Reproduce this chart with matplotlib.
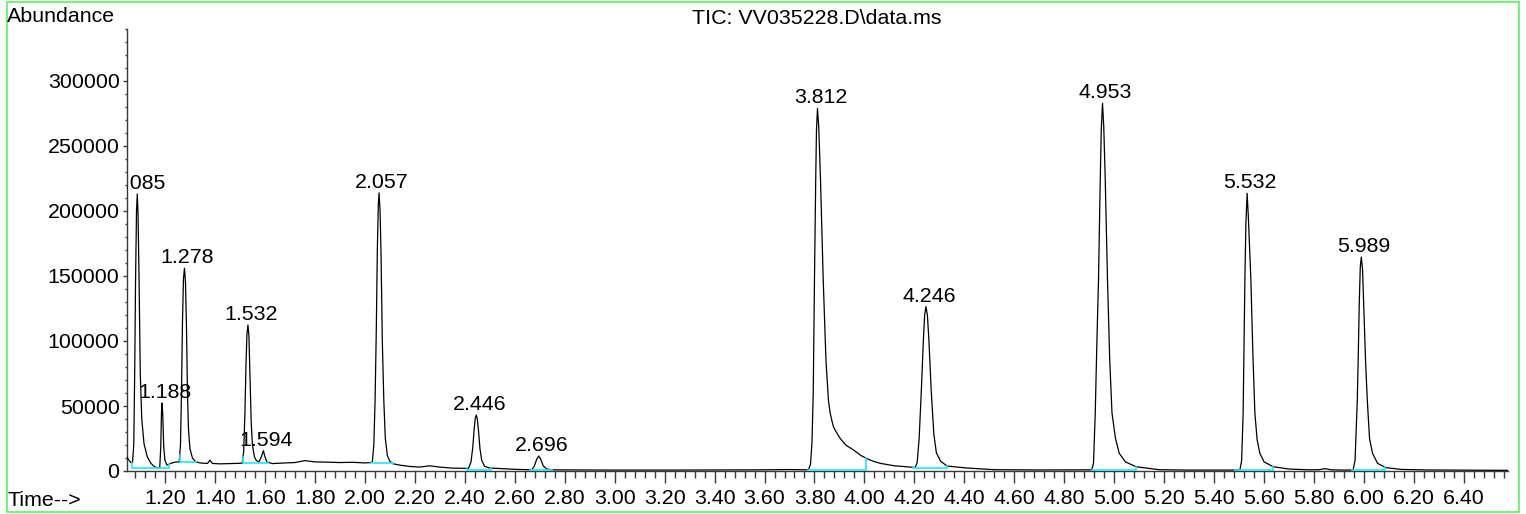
import numpy as np
import matplotlib
matplotlib.use("Agg")
import matplotlib.pyplot as plt
from matplotlib.ticker import MultipleLocator, FormatStrFormatter
from matplotlib.transforms import ScaledTranslation
from matplotlib.patches import Rectangle

plt.rcParams['font.family'] = ['Liberation Sans', 'DejaVu Sans']

# ---- data (time in min, abundance) ----
time_pts = [
    # start + 1.085
    1.047, 1.055, 1.063, 1.070, 1.075, 1.079, 1.082, 1.086, 1.089, 1.092, 1.096, 1.101, 1.107,
    1.116, 1.129, 1.143, 1.157, 1.170,
    # 1.188
    1.179, 1.183, 1.186, 1.188, 1.191, 1.195, 1.200, 1.208, 1.225, 1.245,
    # 1.278
    1.257, 1.262, 1.266, 1.270, 1.274, 1.278, 1.282, 1.286, 1.290, 1.294, 1.300, 1.310, 1.322,
    1.340, 1.370, 1.380, 1.390, 1.420, 1.460, 1.500,
    # 1.532 / 1.594
    1.509, 1.515, 1.520, 1.524, 1.528, 1.532, 1.536, 1.540, 1.545, 1.550, 1.558, 1.566, 1.576,
    1.586, 1.594, 1.600, 1.608, 1.630, 1.680, 1.720, 1.760, 1.800, 1.850, 1.900, 1.950, 2.000,
    2.025,
    # 2.057
    2.030, 2.036, 2.041, 2.046, 2.050, 2.054, 2.057, 2.061, 2.065, 2.070, 2.076, 2.082, 2.090,
    2.100, 2.115, 2.140, 2.180, 2.220, 2.260, 2.300, 2.350, 2.400,
    # 2.446
    2.415, 2.425, 2.432, 2.438, 2.442, 2.446, 2.450, 2.455, 2.461, 2.468, 2.480, 2.500, 2.550,
    2.600, 2.650,
    # 2.696
    2.668, 2.678, 2.688, 2.696, 2.704, 2.714, 2.728, 2.750, 2.850, 3.000, 3.200, 3.400, 3.600,
    3.700, 3.770,
    # 3.812
    3.776, 3.784, 3.790, 3.795, 3.800, 3.805, 3.808, 3.812, 3.817, 3.824, 3.835, 3.846, 3.856,
    3.863, 3.870, 3.876, 3.890, 3.903, 3.925, 3.956, 3.985, 4.010, 4.035, 4.063, 4.120, 4.197,
    # 4.246
    4.203, 4.211, 4.219, 4.228, 4.236, 4.241, 4.246, 4.252, 4.258, 4.267, 4.278, 4.288, 4.305,
    4.331, 4.410, 4.520, 4.700, 4.850, 4.910,
    # 4.953
    4.917, 4.924, 4.930, 4.937, 4.944, 4.948, 4.953, 4.958, 4.964, 4.973, 4.982, 4.991, 5.005,
    5.020, 5.045, 5.087, 5.180, 5.300, 5.450, 5.503,
    # 5.532
    5.510, 5.516, 5.520, 5.523, 5.527, 5.532, 5.537, 5.542, 5.547, 5.555, 5.563, 5.572, 5.583,
    5.600, 5.636, 5.700, 5.780, 5.820, 5.843, 5.870, 5.920, 5.956,
    # 5.989
    5.964, 5.973, 5.977, 5.981, 5.985, 5.989, 5.994, 5.999, 6.006, 6.013, 6.022, 6.034, 6.054,
    6.087, 6.150, 6.250, 6.350, 6.450, 6.577,
]
abundance_pts = [
    10800, 8500, 6500, 6500, 20000, 80000, 145000, 200000, 213000, 198000, 150000, 75000, 40000,
    21000, 11000, 6000, 3500, 2300,
    3000, 18000, 45000, 52300, 44000, 18000, 8000, 4500, 6000, 7000,
    7000, 20000, 60000, 115000, 148000, 156000, 145000, 111000, 60000, 32000, 17000, 10000, 7200,
    6200, 5800, 8300, 5800, 5500, 5700, 6000,
    6000, 15000, 45000, 80000, 105000, 112300, 104000, 75000, 38000, 20000, 11000, 8000, 7000,
    11000, 15600, 11000, 7000, 5700, 6200, 6500, 8000, 7000, 6800, 6500, 6700, 6200,
    6500,
    7000, 20000, 54000, 110000, 170000, 205000, 214000, 200000, 165000, 100000, 54000, 25000, 12000,
    7500, 5500, 4500, 3500, 3000, 4000, 3000, 2200, 2000,
    2000, 7000, 18000, 33000, 40500, 43000, 40500, 31000, 17000, 8000, 3500, 2300, 1800,
    1300, 1000,
    1000, 3500, 9000, 11500, 9000, 4000, 1500, 900, 800, 700, 700, 800, 900,
    1100, 900,
    1000, 5000, 22000, 60000, 147000, 225000, 262000, 279000, 265000, 225000, 147000, 85000, 54000,
    44400, 38500, 34000, 29000, 25100, 20000, 16200, 12000, 9500, 7500, 5900, 4000, 2800,
    2600, 6300, 25000, 63000, 101000, 120000, 126400, 120000, 101000, 63000, 28000, 14000, 7500,
    3800, 2300, 1000, 800, 900, 900,
    6000, 44600, 95000, 147000, 224000, 262000, 282800, 265000, 224000, 147000, 85000, 44600, 25000,
    13600, 7000, 3300, 1000, 700, 700, 800,
    8000, 44600, 100000, 147000, 190000, 213600, 195000, 170000, 147000, 90000, 44600, 24000, 13600,
    7000, 3300, 1500, 900, 1000, 1800, 900, 700, 800,
    8000, 54600, 90000, 130000, 157000, 164600, 155000, 125000, 85000, 54600, 25000, 13600, 5900,
    2600, 1200, 800, 700, 600, 500,
]

peak_rt = [1.085, 1.188, 1.278, 1.532, 1.594, 2.057, 2.446, 2.696,
           3.812, 4.246, 4.953, 5.532, 5.989]
peak_labels = ["1.085", "1.188", "1.278", "1.532", "1.594", "2.057", "2.446", "2.696",
               "3.812", "4.246", "4.953", "5.532", "5.989"]

# integration baselines (start, end, level)
bl_start = [1.069, 1.259, 1.512, 2.026, 2.407, 2.663, 3.775, 4.195, 4.909, 5.483, 5.950]
bl_end = [1.216, 1.326, 1.612, 2.113, 2.507, 2.751, 4.008, 4.331, 5.089, 5.636, 6.082]
bl_level = [2100, 6700, 5900, 6400, 1000, 500, 500, 2100, 500, 500, 500]

x_major = 0.2
x_minor = 0.04
y_major = 50000
y_minor = 10000

FS = 15.4

# ---- figure ----
W, H = 1526, 514
fig = plt.figure(figsize=(W / 100, H / 100), dpi=100)
ax = fig.add_axes([126.7 / W, 1 - 471 / H, (1508.3 - 126.7) / W, (471 - 29) / H])

t = np.array(time_pts)
a = np.array(abundance_pts)
ax.plot(t, a, color='black', lw=0.9, zorder=3, solid_joinstyle='round')

for s, e, lv in zip(bl_start, bl_end, bl_level):
    ys = np.interp(s, t, a)
    ye = np.interp(e, t, a)
    ax.plot([s, s, e, e], [ys, lv, lv, ye], color='#1ee8f2', lw=1.2, zorder=4,
            clip_on=False, solid_joinstyle='miter')

off = ScaledTranslation(3 / 100, 5 / 100, fig.dpi_scale_trans)
for rt, lab in zip(peak_rt, peak_labels):
    near = np.abs(t - rt) <= 0.006
    yv = a[near].max() if near.any() else np.interp(rt, t, a)
    ax.text(rt, yv, lab, transform=ax.transData + off, ha='center', va='baseline',
            fontsize=FS, color='black', clip_on=True, zorder=5)

ax.set_xlim(1.0467, 6.5775)
ax.set_ylim(0, 340000)

for sp in ['top', 'right']:
    ax.spines[sp].set_visible(False)
for sp in ['left', 'bottom']:
    ax.spines[sp].set_color('#3a3a3a')
    ax.spines[sp].set_linewidth(1.0)

ax.xaxis.set_major_locator(MultipleLocator(x_major))
ax.xaxis.set_minor_locator(MultipleLocator(x_minor))
ax.xaxis.set_major_formatter(FormatStrFormatter('%.2f'))
ax.yaxis.set_major_locator(MultipleLocator(y_major))
ax.yaxis.set_minor_locator(MultipleLocator(y_minor))
ax.yaxis.set_major_formatter(FormatStrFormatter('%d'))

ax.tick_params(axis='x', which='major', length=8.3, width=1.0, color='#3a3a3a',
               labelsize=FS, pad=5.0)
ax.tick_params(axis='x', which='minor', length=5.2, width=1.0, color='#3a3a3a')
ax.tick_params(axis='y', which='major', length=2.6, width=1.0, color='#3a3a3a',
               labelsize=FS, pad=2.5)
ax.tick_params(axis='y', which='minor', length=1.5, width=1.0, color='#3a3a3a')
ax.set_facecolor('white')

fig.text(7 / W, 1 - 22 / H, "Abundance", fontsize=FS, ha='left', va='baseline')
fig.text(7 / W, 1 - 506 / H, "Time-->", fontsize=FS, ha='left', va='baseline')
fig.text(817 / W, 1 - 23.5 / H, r"TIC: VV035228.D\data.ms", fontsize=FS,
         ha='center', va='baseline')

frame = Rectangle((6.7 / W, 2.3 / H), (1519 - 6.7) / W, (511.7 - 1.7) / H,
                  transform=fig.transFigure, fill=False, edgecolor='#5cf25c', lw=1.2)
fig.patches.append(frame)

fig.savefig("out.png", dpi=100, facecolor='white')
